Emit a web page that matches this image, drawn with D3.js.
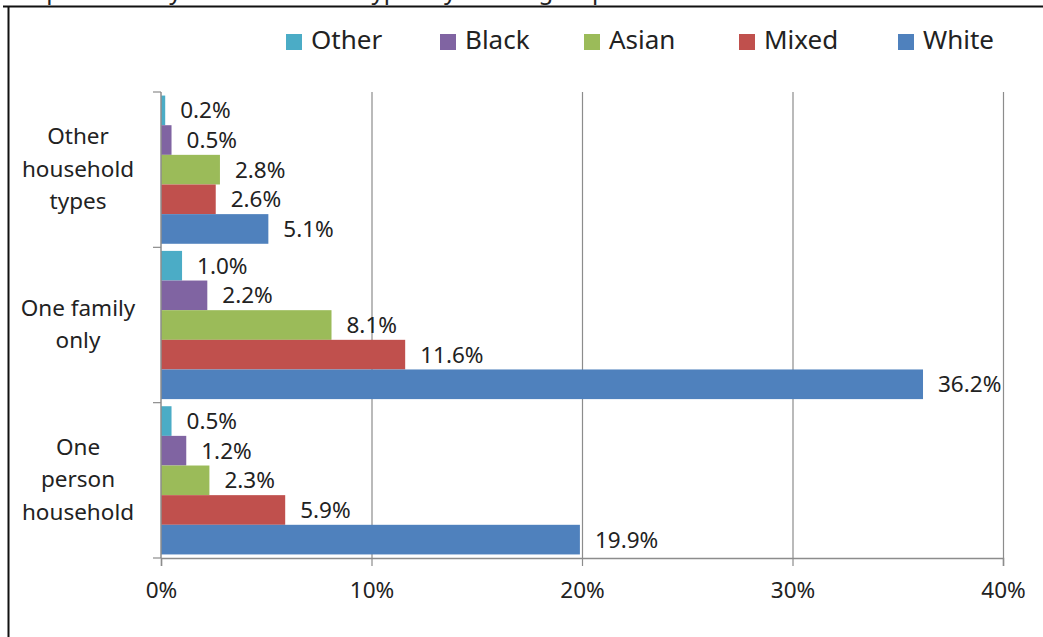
<!DOCTYPE html>
<html>
<head>
<meta charset="utf-8">
<script src="https://cdn.jsdelivr.net/npm/d3@7"></script>
<style>
  body { margin: 0; background: #fff; }
  svg text { font-family: "Noto Sans", "Open Sans", sans-serif; fill: #222; }
</style>
</head>
<body>
<div id="chart"></div>
<script>
// Chart data
var categories = ["Other household types", "One family only", "One person household"];
var categoryLines = [["Other", "household", "types"], ["One family", "only"], ["One", "person", "household"]];
var seriesNames = ["Other", "Black", "Asian", "Mixed", "White"];
var seriesColors = ["#4bacc6", "#8064a2", "#9bbb59", "#c0504d", "#4f81bd"];
var otherValues = [0.2, 1.0, 0.5];
var blackValues = [0.5, 2.2, 1.2];
var asianValues = [2.8, 8.1, 2.3];
var mixedValues = [2.6, 11.6, 5.9];
var whiteValues = [5.1, 36.2, 19.9];
var xTicks = [0, 10, 20, 30, 40];

var seriesValues = [otherValues, blackValues, asianValues, mixedValues, whiteValues];

var svgWidth = 1043;
var svgHeight = 637;

var svg = d3.select("#chart")
  .append("svg")
  .attr("width", svgWidth)
  .attr("height", svgHeight);

// Title (cut off at the top in the original picture)
svg.append("text")
  .attr("x", 6)
  .attr("y", -1)
  .style("font-size", "24px")
  .text("Graph 2: Family and household types by ethnic group");

// Outer frame lines
svg.append("line").attr("x1", 3).attr("x2", svgWidth).attr("y1", 6.5).attr("y2", 6.5)
  .attr("stroke", "#111").attr("stroke-width", 2);
svg.append("line").attr("x1", 8.5).attr("x2", 8.5).attr("y1", 6).attr("y2", svgHeight)
  .attr("stroke", "#111").attr("stroke-width", 2);

var x = d3.scaleLinear().domain([0, 40]).range([161, 1003]);
var y0 = d3.scaleBand().domain(categories).range([92, 558]).paddingInner(0).paddingOuter(0);
var y1 = d3.scaleBand().domain(seriesNames).range([0, y0.bandwidth()]).paddingOuter(0.12).paddingInner(0);

var chart = svg.append("g");

// Gridlines
chart.selectAll(".grid")
  .data(xTicks.slice(1))
  .enter()
  .append("line")
  .attr("x1", function(d) { return x(d) + 0.5; })
  .attr("x2", function(d) { return x(d) + 0.5; })
  .attr("y1", 92)
  .attr("y2", 558)
  .attr("stroke", "#8c8c8c")
  .attr("stroke-width", 1.2);

// Bars
categories.forEach(function(cat, ci) {
  var g = chart.append("g").attr("transform", "translate(0," + y0(cat) + ")");
  seriesNames.forEach(function(s, si) {
    var v = seriesValues[si][ci];
    g.append("rect")
      .attr("x", x(0))
      .attr("y", y1(s))
      .attr("width", x(v) - x(0))
      .attr("height", y1.bandwidth())
      .attr("fill", seriesColors[si]);
    g.append("text")
      .attr("x", x(v) + 15)
      .attr("y", y1(s) + y1.bandwidth() / 2 + 2)
      .attr("dominant-baseline", "middle")
      .style("font-size", "22.5px")
      .text(v.toFixed(1) + "%");
  });
});

// X axis
var bottomAxis = d3.axisBottom(x)
  .tickValues(xTicks)
  .tickFormat(function(d) { return d + "%"; })
  .tickSize(8)
  .tickPadding(16);
var xAxis = chart.append("g")
  .attr("transform", "translate(0,558)")
  .call(bottomAxis);
xAxis.select(".domain").attr("stroke", "#8c8c8c").attr("stroke-width", 1.5);
xAxis.selectAll(".tick line").attr("stroke", "#8c8c8c").attr("stroke-width", 1.2);
xAxis.selectAll(".tick text").style("font-size", "22.5px").attr("fill", "#222");

// Y axis
var yAxisG = chart.append("g");
yAxisG.append("line")
  .attr("x1", 161).attr("x2", 161).attr("y1", 92).attr("y2", 558)
  .attr("stroke", "#8c8c8c").attr("stroke-width", 1.5);
var bounds = categories.map(function(c) { return y0(c); }).concat([558]);
yAxisG.selectAll(".ytick")
  .data(bounds)
  .enter()
  .append("line")
  .attr("x1", 153).attr("x2", 161)
  .attr("y1", function(d) { return d; })
  .attr("y2", function(d) { return d; })
  .attr("stroke", "#8c8c8c").attr("stroke-width", 1.2);

// Category labels
categories.forEach(function(cat, ci) {
  var lines = categoryLines[ci];
  var mid = y0(cat) + y0.bandwidth() / 2;
  var lh = 32.5;
  var t = yAxisG.append("text")
    .attr("text-anchor", "middle")
    .style("font-size", "22.5px");
  lines.forEach(function(l, li) {
    t.append("tspan")
      .attr("x", 78)
      .attr("y", mid + (li - (lines.length - 1) / 2) * lh + 1)
      .attr("dominant-baseline", "middle")
      .text(l);
  });
});

// Legend
var legendX = [286, 440, 584, 739, 898];
var legend = svg.append("g");
seriesNames.forEach(function(s, i) {
  legend.append("rect")
    .attr("x", legendX[i])
    .attr("y", 34)
    .attr("width", 16)
    .attr("height", 16)
    .attr("fill", seriesColors[i]);
  legend.append("text")
    .attr("x", legendX[i] + 25)
    .attr("y", 42)
    .attr("dominant-baseline", "middle")
    .style("font-size", "26px")
    .text(s);
});
</script>
</body>
</html>
